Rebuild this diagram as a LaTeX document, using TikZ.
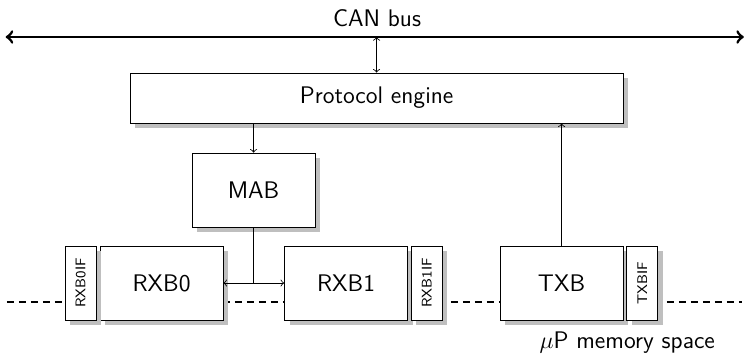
\documentclass[tikz,border=0pt]{standalone}
\usetikzlibrary{positioning,shadows}
\begin{document}
\begin{tikzpicture}[>=to, font=\sffamily\large, node distance=1.5pt,
  block/.style={draw, fill=white, drop shadow={shadow xshift=2.5pt, shadow yshift=-2.5pt, fill=black!25, opacity=1}},
  buffer/.style={block, minimum width=2.16cm, minimum height=1.3cm},
  flag/.style={block, minimum width=0.545cm, minimum height=1.3cm, inner sep=0pt},
  flagtext/.style={rotate=90, font=\sffamily\scriptsize}]
\useasboundingbox (0,0) rectangle (13.09,6.256);
% memory space
\draw[semithick, dash pattern=on 3.5pt off 2.5pt] (0.12,0.949) -- (13.04,0.949);
\node (mem) at (11.02,0.228) {$\mu$P memory space};
% bus
\draw[<->, line width=1.4pt] (0.1,5.606) -- (13.07,5.606);
\node (can) at (6.625,5.94) {CAN bus};
\coordinate (bus) at (6.616,5.606);
\begin{scope}
\node[block, minimum width=8.664cm, minimum height=0.879cm] (pe) at (6.616,4.534) {Protocol engine};
\node[buffer] (mab) at (4.455,2.917) {MAB};
\node[buffer] (rxb0) at (2.838,1.283) {RXB0};
\node[buffer] (rxb1) at (6.08,1.283) {RXB1};
\node[buffer] (txb) at (9.867,1.283) {TXB};
\node[flag, left=of rxb0] (rxb0if) {};%flags
\node[flag, right=of rxb1] (rxb1if) {};
\node[flag, right=of txb] (txbif) {};
\node[flagtext] at (rxb0if) {RXB0IF};
\node[flagtext] at (rxb1if) {RXB1IF};
\node[flagtext] at (txbif) {TXBIF};
\end{scope}
\begin{scope}[thin]
\draw[<->] (bus) -- (pe.north);
\draw[->] (pe.south -| mab.north) -- (mab.north);
\draw (mab.south) -- (mab.south |- rxb0.east) coordinate (split);
\draw[->] (split) -- (rxb0.east);
\draw[->] (split) -- (rxb1.west);
\draw[->] (txb.north) -- (txb.north |- pe.south);
\end{scope}
\end{tikzpicture}
\end{document}
